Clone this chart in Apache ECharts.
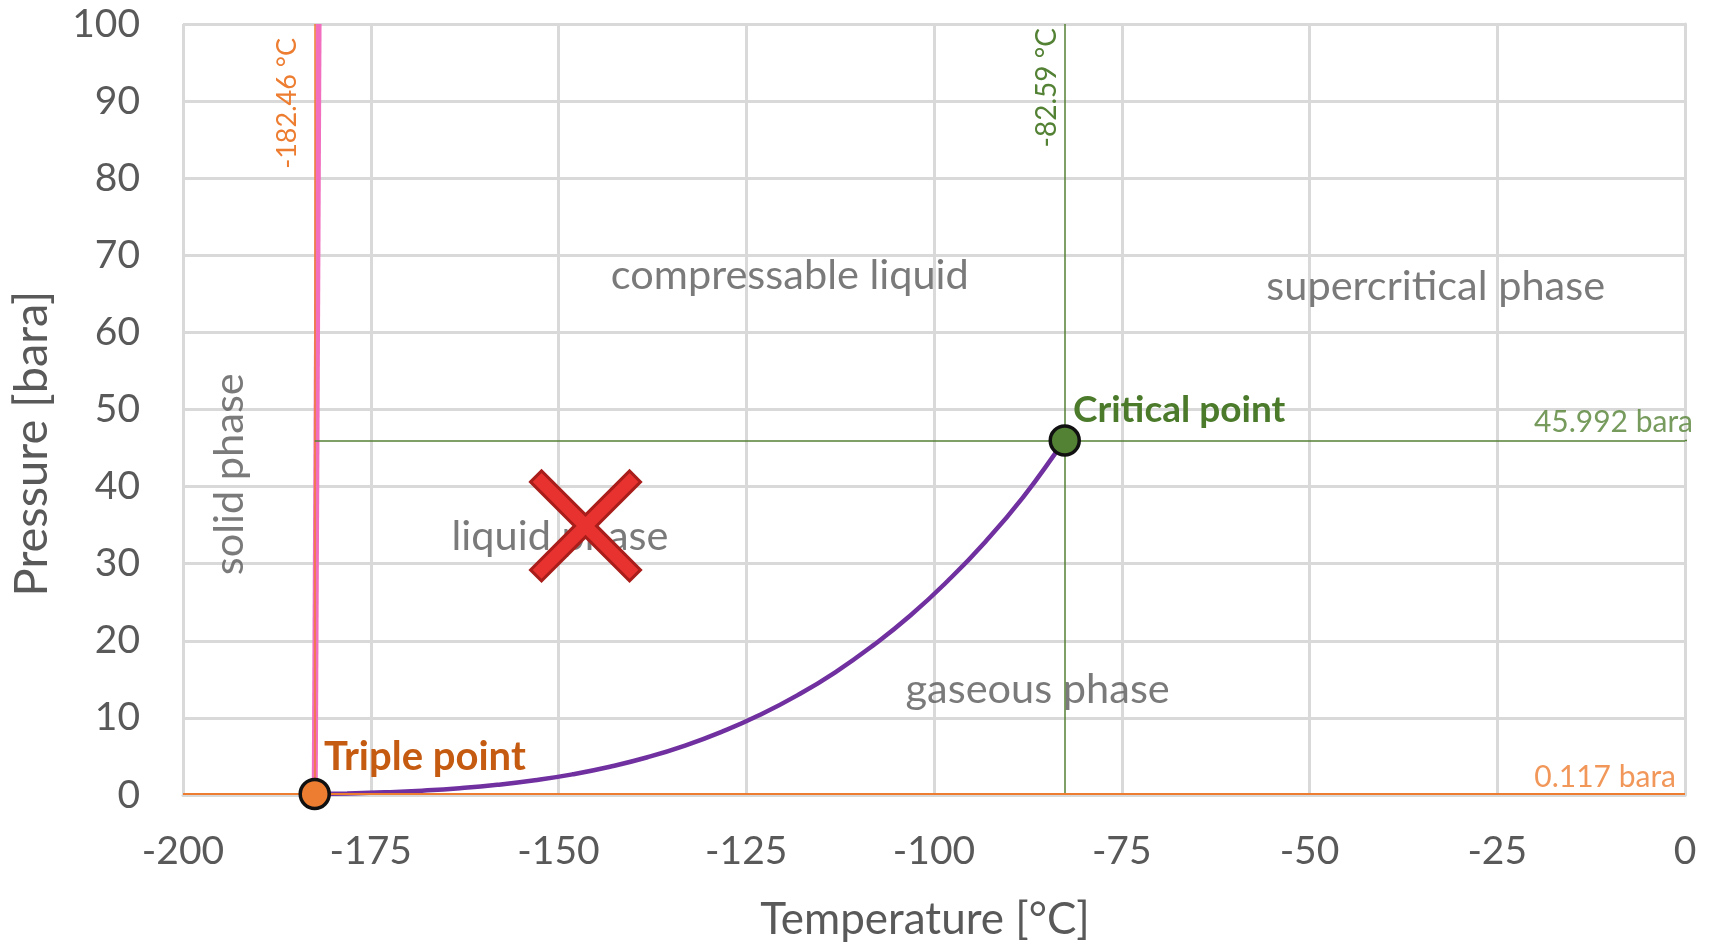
<!DOCTYPE html>
<html>
<head>
<meta charset="utf-8">
<script src="https://cdn.jsdelivr.net/npm/echarts@6/dist/echarts.min.js"></script>
<style>html,body{margin:0;padding:0;background:#fff}#c{width:1709px;height:947px}</style>
</head>
<body>
<div id="c"></div>
<script>
// Vapour-pressure curve (liquid/gas boundary), temperature in °C, pressure in bara
var vapT = [-182.46, -178.15, -173.15, -168.15, -163.15, -158.15, -153.15, -148.15, -143.15, -138.15, -133.15, -128.15, -123.15, -118.15, -113.15, -108.15, -103.15, -98.15, -93.15, -88.15, -83.15, -82.59];
var vapP = [0.117, 0.199, 0.345, 0.566, 0.883, 1.322, 1.912, 2.678, 3.669, 4.896, 6.412, 8.246, 10.40, 12.95, 15.92, 19.37, 23.28, 27.79, 32.86, 38.61, 45.24, 45.992];
// Melting line (solid/liquid boundary)
var meltT = [-182.46, -181.95];
var meltP = [0.117, 100];
// Special points
var tripleT = -182.46, tripleP = 0.117;
var critT = -82.59, critP = 45.992;
// Region annotations: text, temperature, pressure, rotation
var regionText = ['compressable liquid', 'supercritical phase', 'liquid phase', 'gaseous phase', 'solid phase'];
var regionT = [-119.2, -33.2, -149.8, -86.2, -193.8];
var regionP = [67.4, 66.0, 33.5, 13.7, 41.6];
var regionRot = [0, 0, 0, 0, 90];
// Crossed-out marker
var crossT = -146.4, crossP = 34.9;
// Level labels
var critPLabel = '45.992 bara', tripPLabel = '0.117 bara';
var tripTLabel = '-182.46 °C', critTLabel = '-82.59 °C';

var FONT = 'Lato';
var GRAY = '#595959';
var ORANGE = '#ED7D31';
var GREEN = '#548235';

function pairs(a, b) { return a.map(function (v, i) { return [v, b[i]]; }); }

var regionData = regionText.map(function (t, i) {
  return { value: [regionT[i], regionP[i]], name: t,
    label: { rotate: regionRot[i] } };
});

var chart = echarts.init(document.getElementById('c'), null, { renderer: 'canvas' });
chart.setOption({
  animation: false,
  backgroundColor: '#fff',
  grid: { left: 180, right: 24, top: 24, bottom: 150, containLabel: false },
  xAxis: {
    type: 'value', min: -200, max: 0, interval: 25,
    name: 'Temperature [°C]', nameLocation: 'middle', nameGap: 103,
    nameTextStyle: { fontFamily: FONT, fontSize: 44, color: GRAY, padding: [0, 18, 0, 0] },
    axisLine: { show: true, lineStyle: { color: '#d9d9d9', width: 3 } },
    axisTick: { show: false },
    axisLabel: { fontFamily: FONT, fontSize: 39, color: GRAY, margin: 37 },
    splitLine: { show: true, lineStyle: { color: '#d9d9d9', width: 3 } }
  },
  yAxis: {
    type: 'value', min: 0, max: 100, interval: 10,
    name: 'Pressure [bara]', nameLocation: 'middle', nameGap: 128,
    nameTextStyle: { fontFamily: FONT, fontSize: 47, color: GRAY, padding: [0, 68, 0, 0] },
    axisLine: { show: true, lineStyle: { color: '#d9d9d9', width: 3 } },
    axisTick: { show: false },
    axisLabel: { fontFamily: FONT, fontSize: 39, color: GRAY, margin: 43 },
    splitLine: { show: true, lineStyle: { color: '#d9d9d9', width: 3 } }
  },
  series: [
    {
      type: 'scatter', data: regionData, symbolSize: 1, z: 2,
      itemStyle: { color: 'transparent' },
      label: { show: true, position: 'inside', formatter: '{b}', fontFamily: FONT, fontSize: 41.5, color: GRAY },
      silent: true
    },
    {
      type: 'line', data: [], z: 3,
      markLine: {
        silent: true, symbol: ['none', 'none'],
        data: [
          { xAxis: tripleT, lineStyle: { color: ORANGE, width: 1.5, type: 'solid' },
            label: { show: true, position: 'insideEndTop', distance: 14, formatter: tripTLabel, color: ORANGE, fontFamily: FONT, fontSize: 27 } },
          { xAxis: critT, lineStyle: { color: GREEN, width: 1.5, type: 'solid' },
            label: { show: true, position: 'insideEndTop', distance: 4, formatter: critTLabel, color: GREEN, fontFamily: FONT, fontSize: 28 } },
          { yAxis: tripleP, lineStyle: { color: ORANGE, width: 2, type: 'solid' }, label: { show: false } },
          [ { coord: [tripleT, critP], lineStyle: { color: GREEN, width: 1.5, type: 'solid' }, label: { show: false } },
            { coord: [0, critP] } ]
        ]
      }
    },
    {
      type: 'line', data: [[0, critP], [2, critP]], clip: false, symbol: 'none', z: 3,
      lineStyle: { color: GREEN, width: 1.5 }, silent: true
    },
    {
      type: 'scatter', z: 3, symbolSize: 1, clip: false,
      itemStyle: { color: 'transparent' },
      data: [
        { value: [0, critP], name: critPLabel,
          label: { show: true, position: 'top', align: 'right', distance: 3, offset: [8, 0], formatter: '{b}', color: GREEN, fontFamily: FONT, fontSize: 30 } },
        { value: [0, tripleP], name: tripPLabel,
          label: { show: true, position: 'top', align: 'right', distance: 1, offset: [-9, 0], formatter: '{b}', color: ORANGE, fontFamily: FONT, fontSize: 30 } }
      ],
      silent: true
    },
    {
      type: 'line', data: pairs(vapT, vapP), smooth: true, symbol: 'none', z: 4,
      lineStyle: { color: '#7030A0', width: 4.5 }, silent: true
    },
    {
      type: 'line', data: pairs(meltT, meltP), symbol: 'none', z: 4,
      lineStyle: { color: '#F26FBF', width: 6 }, silent: true
    },
    {
      type: 'scatter', z: 6, symbolSize: 110,
      symbol: 'path://M0,10 L10,0 L50,40 L90,0 L100,10 L60,50 L100,90 L90,100 L50,60 L10,100 L0,90 L40,50 Z',
      data: [[crossT, crossP]],
      itemStyle: { color: '#E8322F', borderColor: '#A91D1A', borderWidth: 3, opacity: 1 }, silent: true
    },
    {
      type: 'scatter', z: 7, symbolSize: 29,
      data: [
        { value: [tripleT, tripleP], name: 'Triple point',
          itemStyle: { color: ORANGE, borderColor: '#111', borderWidth: 3.5, opacity: 1 },
          label: { show: true, position: 'right', distance: 0, offset: [-7, -37], formatter: '{b}', color: '#C55A11', fontFamily: FONT, fontWeight: 'bold', fontSize: 40 } },
        { value: [critT, critP], name: 'Critical point',
          itemStyle: { color: GREEN, borderColor: '#111', borderWidth: 3.5, opacity: 1 },
          label: { show: true, position: 'right', distance: 0, offset: [-8, -30], formatter: '{b}', color: '#4A7A2A', fontFamily: FONT, fontWeight: 'bold', fontSize: 37 } }
      ],
      silent: true
    }
  ]
});
</script>
</body>
</html>
